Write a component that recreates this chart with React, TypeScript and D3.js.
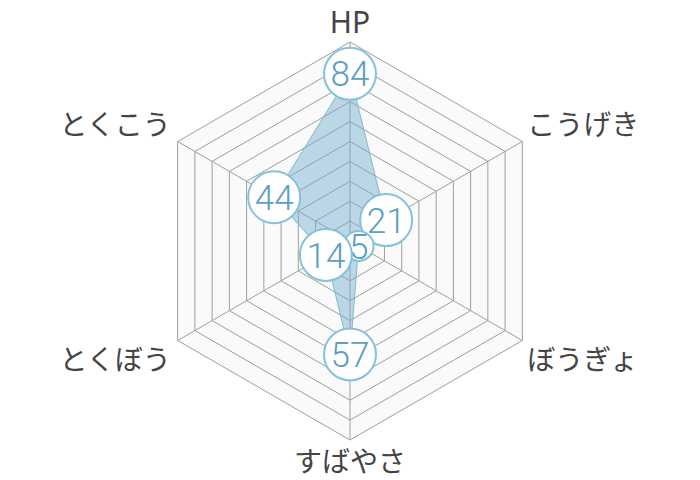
import React, { useRef, useEffect } from 'react';
import * as d3 from 'd3';

const axes = ['HP', 'こうげき', 'ぼうぎょ', 'すばやさ', 'とくぼう', 'とくこう'];
const values = [84, 21, 5, 57, 14, 44];
const maxValue = 100;
const ringCount = 10;

const W = 700;
const H = 480;

const App: React.FC = () => {
  const ref = useRef<SVGSVGElement | null>(null);

  useEffect(() => {
    if (!ref.current) return;
    const svg = d3.select(ref.current);
    svg.selectAll('*').remove();

    const cx = 350;
    const cy = 241;
    const R = 199;
    const r = d3.scaleLinear().domain([0, maxValue]).range([0, R]);
    const angle = d3
      .scaleLinear()
      .domain([0, axes.length])
      .range([0, Math.PI * 2]);
    const pt = (i: number, v: number): [number, number] => [
      cx + r(v) * Math.sin(angle(i)),
      cy - r(v) * Math.cos(angle(i)),
    ];

    const g = svg.append('g');
    const line = d3.line<[number, number]>().curve(d3.curveLinearClosed);

    // background
    g.append('path')
      .attr('d', line(axes.map((_, i) => pt(i, maxValue))))
      .attr('fill', '#fafafa')
      .attr('stroke', 'none');

    // rings
    const levels = d3.range(1, ringCount + 1).map((k) => (k * maxValue) / ringCount);
    g.selectAll('path.ring')
      .data(levels)
      .join('path')
      .attr('class', 'ring')
      .attr('d', (lv) => line(axes.map((_, i) => pt(i, lv))))
      .attr('fill', 'none')
      .attr('stroke', '#9e9e9e')
      .attr('stroke-width', 1);

    // spokes
    g.selectAll('line.spoke')
      .data(axes)
      .join('line')
      .attr('class', 'spoke')
      .attr('x1', cx)
      .attr('y1', cy)
      .attr('x2', (_, i) => pt(i, maxValue)[0])
      .attr('y2', (_, i) => pt(i, maxValue)[1])
      .attr('stroke', '#9e9e9e')
      .attr('stroke-width', 1);

    // axis labels
    g.selectAll('text.axis')
      .data(axes)
      .join('text')
      .attr('class', 'axis')
      .attr('x', (_, i) => {
        const [x] = pt(i, maxValue);
        const s = Math.sin(angle(i));
        return x + (Math.abs(s) < 0.01 ? 0 : s > 0 ? 5 : -7);
      })
      .attr('y', (_, i) => {
        const [, y] = pt(i, maxValue);
        const c = Math.cos(angle(i));
        if (c > 0.99) return y - 9;
        if (c < -0.99) return y + 32;
        return c > 0 ? y - 7 : y + 29;
      })
      .attr('text-anchor', (_, i) => {
        const s = Math.sin(angle(i));
        return Math.abs(s) < 0.01 ? 'middle' : s > 0 ? 'start' : 'end';
      })
      .attr('font-family', '"Noto Sans CJK JP", "Noto Sans", sans-serif')
      .attr('font-size', 28)
      .attr('fill', '#444')
      .text((d) => d)
      .filter((d) => /^[A-Za-z]+$/.test(d))
      .attr('font-family', '"Noto Sans", sans-serif')
      .attr('font-size', 30);

    // data polygon
    g.append('path')
      .attr('d', line(values.map((v, i) => pt(i, v))))
      .attr('fill', 'rgba(110, 172, 203, 0.45)')
      .attr('stroke', '#7db9d6')
      .attr('stroke-width', 1);

    // value bubbles
    const bubbles = g
      .selectAll('g.bubble')
      .data(values)
      .join('g')
      .attr('class', 'bubble')
      .attr('transform', (v, i) => `translate(${pt(i, v)[0]},${pt(i, v)[1]})`);
    bubbles
      .append('circle')
      .attr('r', (v) => String(v).length * 11 + 4)
      .attr('fill', '#fff')
      .attr('stroke', '#85c1dc')
      .attr('stroke-width', 2);
    bubbles
      .append('text')
      .attr('text-anchor', 'middle')
      .attr('dy', '0.36em')
      .attr('font-family', 'Roboto, "Noto Sans", sans-serif')
      .attr('font-weight', 300)
      .attr('font-size', 35)
      .attr('fill', '#5c9fc0')
      .text((v) => String(v));
  }, []);

  return (
    <svg
      ref={ref}
      width={W}
      height={H}
      style={{ position: 'absolute', left: 0, top: 0, background: '#fff' }}
    />
  );
};

export default App;
